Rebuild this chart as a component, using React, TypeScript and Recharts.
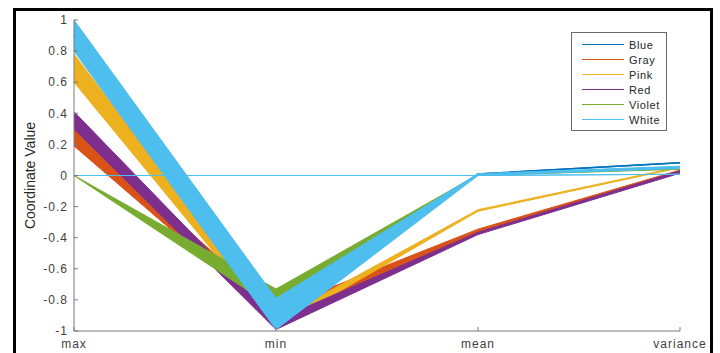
import { ComposedChart, Area, XAxis, YAxis, Legend } from "recharts";

// parallel coordinates: one row per coordinate, each class drawn as a band (low/high edge)
const axisNames = ["max", "min", "mean", "variance"];

const blueLine = [0.9, -0.9, 0.01, 0.082];
const grayLow = [0.19, -0.93, -0.365, 0.025];
const grayHigh = [0.31, -0.86, -0.345, 0.035];
const pinkLow = [0.6, -0.98, -0.23, 0.05];
const pinkHigh = [0.78, -0.93, -0.22, 0.056];
const redLow = [0.3, -0.99, -0.38, 0.015];
const redHigh = [0.41, -0.93, -0.365, 0.03];
const violetLow = [0, -0.86, 0, 0.04];
const violetHigh = [0, -0.73, 0.005, 0.05];
const whiteLow = [0.8, -0.99, 0.0, 0.045];
const whiteHigh = [1.0, -0.79, 0.012, 0.06];
const zeroLine = [0, 0, 0, 0.008];

const yTicks = [-1, -0.8, -0.6, -0.4, -0.2, 0, 0.2, 0.4, 0.6, 0.8, 1];

const groups = [
  { name: "Blue", color: "#0072BD" },
  { name: "Gray", color: "#D95319" },
  { name: "Pink", color: "#EDB120" },
  { name: "Red", color: "#7E2F8E" },
  { name: "Violet", color: "#77AC30" },
  { name: "White", color: "#4DBEEE" },
];

// single lines are kept as zero-width ranges so every series sits in the same layer
const data = axisNames.map((axis, i) => ({
  axis,
  blue: [blueLine[i], blueLine[i]],
  gray: [grayLow[i], grayHigh[i]],
  pink: [pinkLow[i], pinkHigh[i]],
  red: [redLow[i], redHigh[i]],
  violet: [violetLow[i], violetHigh[i]],
  white: [whiteLow[i], whiteHigh[i]],
  zero: [zeroLine[i], zeroLine[i]],
}));

const font = "'Liberation Sans', Arial, sans-serif";

function LegendBox() {
  return (
    <div
      style={{
        border: "1px solid #6a6a6a",
        background: "#fff",
        padding: "4px 0 3px 0",
        fontFamily: font,
        fontSize: 11,
        letterSpacing: 0.6,
        color: "#262626",
      }}
    >
      {groups.map((g) => (
        <div
          key={g.name}
          style={{ display: "flex", alignItems: "center", height: 15 }}
        >
          <span
            style={{
              display: "inline-block",
              width: 42,
              height: 1,
              marginLeft: 10,
              marginRight: 5,
              background: g.color,
            }}
          />
          <span>{g.name}</span>
        </div>
      ))}
    </div>
  );
}

function YLabel(props: any) {
  const vb = props.viewBox || { x: 0, y: 20, height: 311 };
  const cx = 31;
  const cy = vb.y + vb.height / 2;
  return (
    <text
      x={cx}
      y={cy}
      transform={`rotate(-90 ${cx} ${cy})`}
      textAnchor="middle"
      dominantBaseline="middle"
      fontSize={14}
      fontFamily={font}
      fill="#262626"
    >
      Coordinate Value
    </text>
  );
}

export default function App() {
  const common = {
    type: "linear" as const,
    dot: false,
    activeDot: false,
    isAnimationActive: false,
  };
  const tickStyle = {
    fill: "#404040",
    fontSize: 12,
    fontFamily: font,
    letterSpacing: 1,
  };

  return (
    <div
      style={{
        position: "absolute",
        left: 0,
        top: 0,
        width: 720,
        height: 353,
        overflow: "hidden",
        background: "#fff",
      }}
    >
      <div
        style={{
          position: "absolute",
          left: 13,
          top: 8,
          width: 694,
          height: 360,
          border: "3px solid #000",
        }}
      />
      <div style={{ position: "absolute", left: 0, top: 0 }}>
        <ComposedChart
          width={720}
          height={353}
          data={data}
          margin={{ top: 20, right: 40, bottom: 0, left: 0 }}
        >
          <XAxis
            dataKey="axis"
            height={22}
            stroke="#7a7a7a"
            tickSize={-4}
            tickMargin={12}
            tick={tickStyle}
          />
          <YAxis
            width={74}
            domain={[-1, 1]}
            ticks={yTicks}
            tickFormatter={(v) => String(v)}
            stroke="#7a7a7a"
            tickSize={-4}
            tickMargin={10}
            tick={tickStyle}
            label={<YLabel />}
          />
          <Area dataKey="blue" stroke={groups[0].color} strokeWidth={1.5} fill="none" {...common} />
          <Area dataKey="gray" stroke={groups[1].color} fill={groups[1].color} fillOpacity={1} {...common} />
          <Area dataKey="pink" stroke={groups[2].color} fill={groups[2].color} fillOpacity={1} {...common} />
          <Area dataKey="red" stroke={groups[3].color} fill={groups[3].color} fillOpacity={1} {...common} />
          <Area dataKey="violet" stroke={groups[4].color} fill={groups[4].color} fillOpacity={1} {...common} />
          <Area dataKey="white" stroke={groups[5].color} fill={groups[5].color} fillOpacity={1} {...common} />
          <Area dataKey="zero" stroke={groups[5].color} strokeWidth={1} fill="none" {...common} />
          <Legend
            layout="vertical"
            align="center"
            verticalAlign="middle"
            content={() => <LegendBox />}
            wrapperStyle={{ left: 571, top: 32, width: 96, height: 96 }}
          />
        </ComposedChart>
      </div>
    </div>
  );
}
